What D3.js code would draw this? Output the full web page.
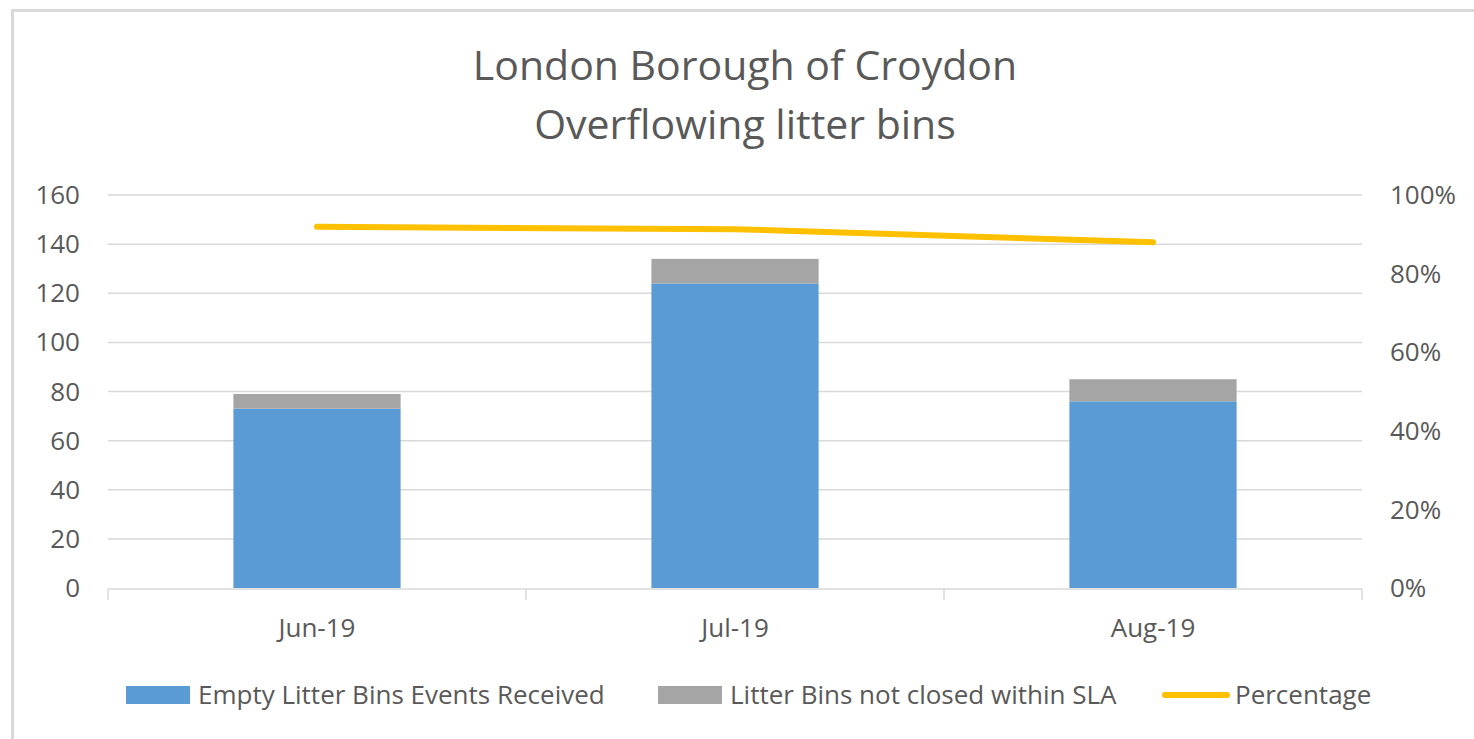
<!DOCTYPE html>
<html>
<head>
<meta charset="utf-8">
<script src="https://cdn.jsdelivr.net/npm/d3@7"></script>
<style>
  body { margin: 0; background: #fff; }
  svg text { font-family: "Open Sans", sans-serif; fill: #595959; }
</style>
</head>
<body>
<svg id="chart"></svg>
<script>
const months = ["Jun-19", "Jul-19", "Aug-19"];
const received = [73, 124, 76];
const notClosed = [6, 10, 9];
const percentage = [0.919, 0.913, 0.88];
const leftTicks = [0, 20, 40, 60, 80, 100, 120, 140, 160];
const rightTicks = [0, 0.2, 0.4, 0.6, 0.8, 1];

const W = 1474, H = 739;
const margin = { top: 195, right: 112, bottom: 151, left: 108 };
const width = W - margin.left - margin.right;
const height = H - margin.top - margin.bottom;

const svg = d3.select("#chart").attr("width", W).attr("height", H);

// outer frame (only top & left visible)
svg.append("path")
  .attr("d", `M12.5,${H} V10.5 H${W}`)
  .attr("fill", "none")
  .attr("stroke", "#d9d9d9")
  .attr("stroke-width", 3);

svg.append("text")
  .attr("x", 745).attr("y", 80)
  .attr("text-anchor", "middle")
  .style("font-size", "41px")
  .text("London Borough of Croydon");
svg.append("text")
  .attr("x", 745).attr("y", 139)
  .attr("text-anchor", "middle")
  .style("font-size", "41px")
  .text("Overflowing litter bins");

const g = svg.append("g").attr("transform", `translate(${margin.left},${margin.top})`);

const x = d3.scaleBand().domain(months).range([0, width]).paddingInner(0.6).paddingOuter(0.3);
const xOuter = d3.scaleBand().domain(months).range([0, width]);
const y = d3.scaleLinear().domain([0, 160]).range([height, 0]);
const y2 = d3.scaleLinear().domain([0, 1]).range([height, 0]);

// gridlines
g.append("g")
  .selectAll("line")
  .data(leftTicks.filter(d => d > 0))
  .enter().append("line")
  .attr("x1", 0).attr("x2", width)
  .attr("y1", d => y(d)).attr("y2", d => y(d))
  .attr("stroke", "#d9d9d9").attr("stroke-width", 1.5);

// left axis labels
g.append("g")
  .selectAll("text")
  .data(leftTicks)
  .enter().append("text")
  .attr("x", -28).attr("y", d => y(d)).attr("dy", "0.35em")
  .attr("text-anchor", "end")
  .style("font-size", "26px")
  .text(d => d);

// right axis labels
g.append("g")
  .selectAll("text")
  .data(rightTicks)
  .enter().append("text")
  .attr("x", width + 28).attr("y", d => y2(d)).attr("dy", "0.35em")
  .attr("text-anchor", "start")
  .style("font-size", "26px")
  .text(d3.format(".0%"));

// bars
g.selectAll("rect.recv")
  .data(months)
  .enter().append("rect")
  .attr("class", "recv")
  .attr("x", d => x(d))
  .attr("width", x.bandwidth())
  .attr("y", (d, i) => y(received[i]))
  .attr("height", (d, i) => y(0) - y(received[i]))
  .attr("fill", "#5b9bd5");

g.selectAll("rect.notc")
  .data(months)
  .enter().append("rect")
  .attr("class", "notc")
  .attr("x", d => x(d))
  .attr("width", x.bandwidth())
  .attr("y", (d, i) => y(received[i] + notClosed[i]))
  .attr("height", (d, i) => y(received[i]) - y(received[i] + notClosed[i]))
  .attr("fill", "#a5a5a5");

// x axis
const xAxis = g.append("g").attr("transform", `translate(0,${height + 1})`);
xAxis.append("line")
  .attr("x1", 0).attr("x2", width)
  .attr("stroke", "#d9d9d9").attr("stroke-width", 1.5);
const bounds = [0, ...months.map(m => xOuter(m) + xOuter.bandwidth())];
xAxis.selectAll("line.tick")
  .data(bounds)
  .enter().append("line")
  .attr("class", "tick")
  .attr("x1", d => d).attr("x2", d => d)
  .attr("y1", 0).attr("y2", 11)
  .attr("stroke", "#d9d9d9").attr("stroke-width", 1.5);
xAxis.selectAll("text")
  .data(months)
  .enter().append("text")
  .attr("x", d => xOuter(d) + xOuter.bandwidth() / 2)
  .attr("y", 39)
  .attr("dy", "0.35em")
  .attr("text-anchor", "middle")
  .style("font-size", "26px")
  .text(d => d);

// percentage line
const line = d3.line()
  .x((d, i) => xOuter(months[i]) + xOuter.bandwidth() / 2)
  .y(d => y2(d));
g.append("path")
  .datum(percentage)
  .attr("fill", "none")
  .attr("stroke", "#ffc000")
  .attr("stroke-width", 6)
  .attr("stroke-linecap", "round")
  .attr("d", line);

// legend
const legend = svg.append("g").attr("transform", "translate(0,695)");
const items = [
  { label: "Empty Litter Bins Events Received", color: "#5b9bd5", type: "rect", x: 126 },
  { label: "Litter Bins not closed within SLA", color: "#a5a5a5", type: "rect", x: 658 },
  { label: "Percentage", color: "#ffc000", type: "line", x: 1163 }
];
items.forEach(it => {
  if (it.type === "rect") {
    legend.append("rect")
      .attr("x", it.x).attr("y", -9)
      .attr("width", 64).attr("height", 18)
      .attr("fill", it.color);
  } else {
    legend.append("line")
      .attr("x1", it.x + 2).attr("x2", it.x + 64)
      .attr("y1", 0).attr("y2", 0)
      .attr("stroke", it.color).attr("stroke-width", 6)
      .attr("stroke-linecap", "round");
  }
  legend.append("text")
    .attr("x", it.x + 72).attr("y", 0).attr("dy", "0.35em")
    .style("font-size", "26px")
    .text(it.label);
});
</script>
</body>
</html>
